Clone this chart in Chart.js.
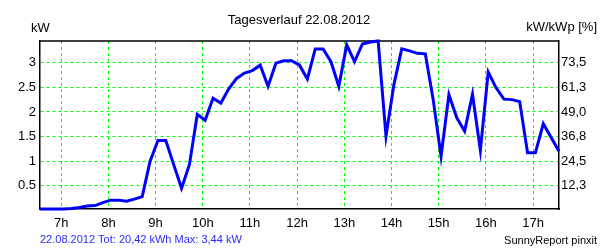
<!DOCTYPE html>
<html>
<head>
<meta charset="utf-8">
<script src="https://cdn.jsdelivr.net/npm/chart.js@4.4.1/dist/chart.umd.min.js"></script>
<style>
html,body{margin:0;padding:0;background:#fff;}
#wrap{position:relative;width:600px;height:250px;}
</style>
</head>
<body>
<div id="wrap"><canvas id="c" width="600" height="250"></canvas></div>
<script>
// ---- data ----
const times = ["06:33","06:43","06:53","07:03","07:13","07:23","07:33","07:43","07:53","08:03",
  "08:13","08:23","08:33","08:43","08:53","09:03","09:13","09:23","09:33","09:43",
  "09:53","10:03","10:13","10:23","10:33","10:43","10:53","11:03","11:13","11:23",
  "11:33","11:43","11:53","12:03","12:13","12:23","12:33","12:43","12:53","13:03",
  "13:13","13:23","13:33","13:43","13:53","14:03","14:13","14:23","14:33","14:43",
  "14:53","15:03","15:13","15:23","15:33","15:43","15:53","16:03","16:13","16:23",
  "16:33","16:43","16:53","17:03","17:13","17:23","17:33"];
const powerKW = [0.03,0.03,0.03,0.03,0.04,0.06,0.09,0.10,0.16,0.21,
  0.21,0.19,0.23,0.28,1.00,1.42,1.42,0.93,0.45,0.93,
  1.95,1.83,2.28,2.18,2.47,2.68,2.79,2.84,2.95,2.52,
  2.99,3.04,3.04,2.95,2.67,3.28,3.28,3.02,2.52,3.36,
  3.02,3.38,3.42,3.44,1.51,2.55,3.28,3.24,3.19,3.18,
  2.25,1.10,2.35,1.88,1.61,2.36,1.22,2.81,2.49,2.26,
  2.25,2.21,1.17,1.17,1.76,1.48,1.20];
const hourTicks = ["07:00","08:00","09:00","10:00","11:00","12:00","13:00","14:00","15:00","16:00","17:00"];
const hourLabels = ["7h","8h","9h","10h","11h","12h","13h","14h","15h","16h","17h"];
const kwTicks = [0.5,1,1.5,2,2.5,3];
const kwTickLabels = ["0.5","1","1.5","2","2.5","3"];
const pctTickLabels = ["12,3","24,5","36,8","49,0","61,3","73,5"];
const titleText = "Tagesverlauf 22.08.2012";
const leftUnit = "kW";
const rightUnit = "kW/kWp [%]";
const footerText = "22.08.2012 Tot: 20,42 kWh Max: 3,44 kW";
const creditText = "SunnyReport pinxit";
const axisRange = {xMin:"06:33", xMax:"17:33", yMin:0.03, yMax:3.44};

// ---- helpers ----
const toMin = s => { const [h,m] = s.split(":").map(Number); return h*60+m; };
const FONT = "'Liberation Sans', Arial, sans-serif";
const GRID = '#00ff00';

const textPlugin = {
  id:'texts',
  beforeDatasetsDraw(chart){
    const {ctx, chartArea:a} = chart;
    ctx.save();
    ctx.strokeStyle = '#000'; ctx.lineWidth = 1.5;
    ctx.beginPath(); ctx.moveTo(a.left, a.top); ctx.lineTo(a.right, a.top); ctx.stroke();
    ctx.restore();
  },
  afterDraw(chart){
    const {ctx} = chart;
    ctx.save();
    ctx.fillStyle = '#000';
    ctx.textBaseline = 'alphabetic';
    ctx.font = '13px ' + FONT;
    ctx.textAlign = 'center';
    ctx.fillText(titleText, 299, 24);
    ctx.textAlign = 'left';
    ctx.fillText(leftUnit, 31, 32);
    ctx.textAlign = 'right';
    ctx.fillText(rightUnit, 597, 31);
    ctx.font = '11px ' + FONT;
    ctx.fillStyle = '#2a2aff';
    ctx.textAlign = 'left';
    ctx.fillText(footerText, 40, 243);
    ctx.fillStyle = '#000';
    ctx.textAlign = 'right';
    ctx.fillText(creditText, 597, 244);
    ctx.restore();
  }
};

new Chart(document.getElementById('c'), {
  type:'line',
  data:{
    datasets:[{
      data: times.map((t,i)=>({x:toMin(t), y:powerKW[i]})),
      borderColor:'#0000ff', borderWidth:3, pointRadius:0, tension:0, fill:false, clip:false
    }]
  },
  options:{
    responsive:false, animation:false, maintainAspectRatio:false,
    layout:{padding:{top:41,left:0,right:0,bottom:0}},
    plugins:{legend:{display:false}, tooltip:{enabled:false}, title:{display:false}},
    scales:{
      x:{
        type:'linear', min:toMin(axisRange.xMin), max:toMin(axisRange.xMax),
        afterBuildTicks: s => { s.ticks = hourTicks.map(t=>({value:toMin(t)})); },
        afterFit: s => { s.height = 41; },
        ticks:{ color:'#000', font:{family:FONT, size:13}, padding:7, maxRotation:0, autoSkip:false,
          callback:(v,i)=>hourLabels[i] },
        grid:{ color:GRID, lineWidth:1, drawTicks:false },
        border:{ color:'#000', width:1.5, dash:[3,3] }
      },
      y:{
        type:'linear', position:'left', min:axisRange.yMin, max:axisRange.yMax,
        afterBuildTicks: s => { s.ticks = kwTicks.map(v=>({value:v})); },
        afterFit: s => { s.width = 40; },
        ticks:{ color:'#000', font:{family:FONT, size:13}, padding:4, autoSkip:false,
          callback:(v,i)=>kwTickLabels[i] },
        grid:{ color:GRID, lineWidth:1, drawTicks:false },
        border:{ color:'#000', width:1.5, dash:[3,3] }
      },
      y2:{
        type:'linear', position:'right', min:axisRange.yMin, max:axisRange.yMax,
        afterBuildTicks: s => { s.ticks = kwTicks.map(v=>({value:v})); },
        afterFit: s => { s.width = 41; },
        ticks:{ color:'#000', font:{family:FONT, size:13}, padding:2, autoSkip:false,
          callback:(v,i)=>pctTickLabels[i] },
        grid:{ display:false, drawTicks:false },
        border:{ color:'#000', width:1.5 }
      }
    }
  },
  plugins:[textPlugin]
});
</script>
</body>
</html>
